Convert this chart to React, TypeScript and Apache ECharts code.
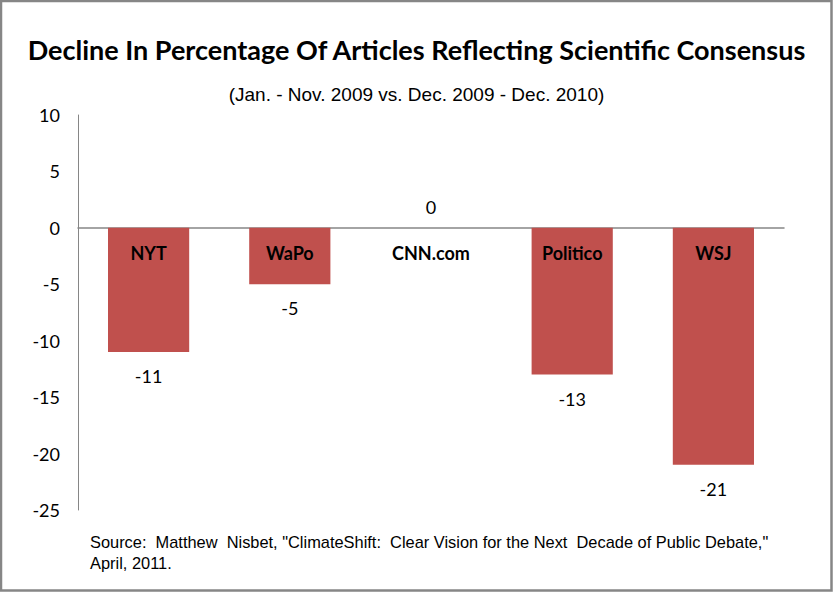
import React, { useEffect, useRef } from "react";
import * as echarts from "echarts";

const categories = ["NYT", "WaPo", "CNN.com", "Politico", "WSJ"];
const values = [-11, -5, 0, -13, -21];
const yMin = -25;
const yMax = 10;
const yInterval = 5;
const titleText = "Decline In Percentage Of Articles Reflecting Scientific Consensus";
const subtitleText = "(Jan. - Nov. 2009 vs. Dec. 2009 - Dec. 2010)";
const sourceLines = [
  'Source:  Matthew  Nisbet, "ClimateShift:  Clear Vision for the Next  Decade of Public Debate,"',
  "April, 2011.",
];

const CAL = "Lato, 'Open Sans', sans-serif";
const NARROW = "'Liberation Sans Narrow', 'Arial Narrow', 'Liberation Sans', sans-serif";

export default function App() {
  const ref = useRef<HTMLDivElement>(null);
  useEffect(() => {
    if (!ref.current) return;
    const chart = echarts.init(ref.current, undefined, { renderer: "svg" });
    chart.setOption({
      animation: false,
      backgroundColor: "#ffffff",
      title: [
        {
          text: titleText,
          left: "center",
          top: 31,
          textStyle: { fontFamily: CAL, fontWeight: "bold", fontSize: 27, color: "#000" },
        },
        {
          text: subtitleText,
          left: "center",
          top: 80,
          textStyle: { fontFamily: NARROW, fontWeight: "normal", fontSize: 19, color: "#000" },
        },
      ],
      grid: { left: 78, right: 49, top: 115, bottom: 82, containLabel: false },
      xAxis: {
        type: "category",
        data: categories,
        axisLine: { onZero: true, lineStyle: { color: "#868686", width: 1.5 } },
        axisTick: { show: false },
        axisLabel: { show: false },
        splitLine: { show: false },
      },
      yAxis: {
        type: "value",
        min: yMin,
        max: yMax,
        interval: yInterval,
        axisLine: { show: true, lineStyle: { color: "#868686", width: 1 } },
        axisTick: { show: false },
        splitLine: { show: false },
        axisLabel: { margin: 18, fontFamily: CAL, fontSize: 18, color: "#000" },
      },
      series: [
        {
          type: "bar",
          barWidth: "57.5%",
          itemStyle: { color: "#C0504D" },
          data: values.map((v) => ({
            value: v,
            label: {
              show: true,
              position: v < 0 ? "bottom" : "top",
              distance: v < 0 ? 15 : 12,
              fontFamily: CAL,
              fontSize: 18,
              color: "#000",
            },
          })),
        },
        {
          type: "bar",
          barWidth: "57.5%",
          barGap: "-100%",
          z: 5,
          silent: true,
          itemStyle: { color: "rgba(0,0,0,0)" },
          data: categories.map((c) => ({
            value: 0,
            name: c,
            label: {
              show: true,
              position: "bottom",
              distance: 16,
              formatter: c,
              fontFamily: CAL,
              fontWeight: "bold",
              fontSize: 18,
              color: "#000",
            },
          })),
        },
      ],
      graphic: [
        {
          type: "text",
          left: 90,
          top: 531,
          style: {
            text: sourceLines.join("\n"),
            font: `16.4px ${NARROW}`,
            lineHeight: 21,
            fill: "#000",
          },
        },
        {
          type: "rect",
          shape: { x: 1, y: 1, width: 830.5, height: 589.5 },
          style: { fill: "none", stroke: "#868686", lineWidth: 2.5 },
          silent: true,
        },
      ],
    });
    return () => chart.dispose();
  }, []);
  return (
    <div
      ref={ref}
      style={{ position: "fixed", left: 0, top: 0, width: 833, height: 592 }}
    />
  );
}
